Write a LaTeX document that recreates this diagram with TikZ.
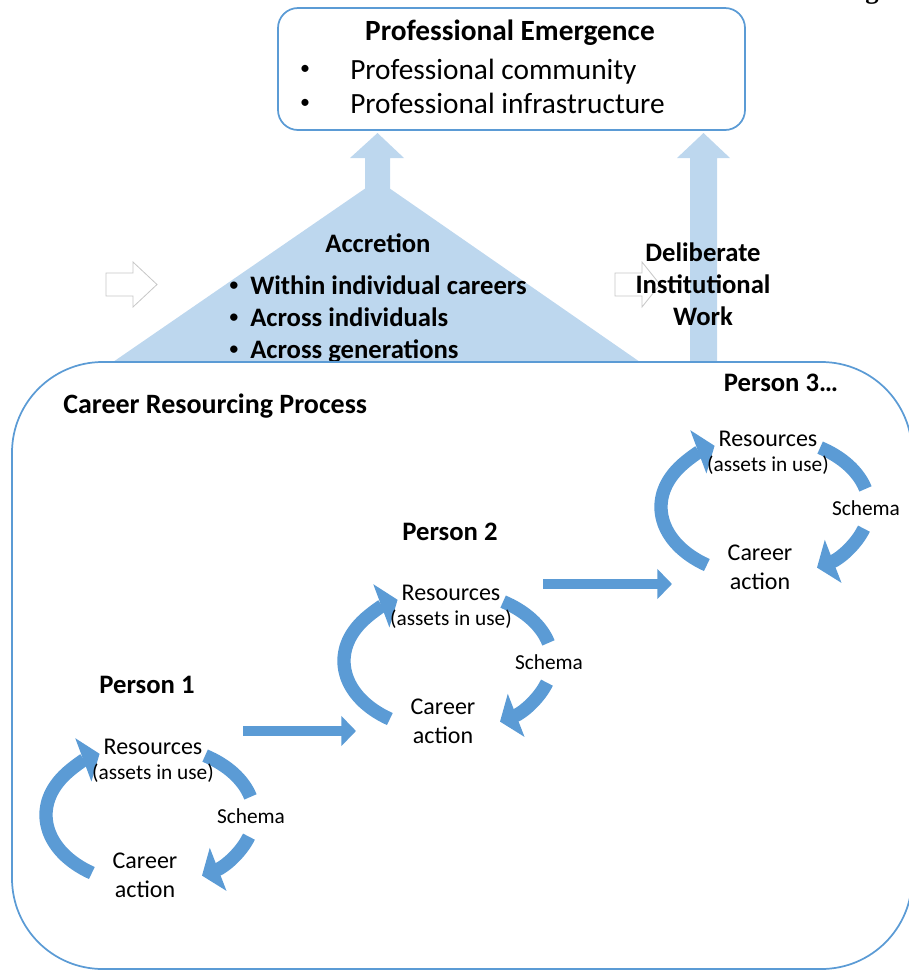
\documentclass[tikz,border=0pt]{standalone}
\usepackage{fontspec}
\setmainfont{Carlito}
\newfontfamily\serifcut{Liberation Serif}
\usetikzlibrary{arrows.meta,positioning}
\definecolor{boxblue}{HTML}{5B9BD5}
\definecolor{paleblue}{HTML}{BDD7EE}

\begin{document}
\begin{tikzpicture}[x=0.75pt,y=-0.75pt,
    cyc/.style={line width=10pt,draw=boxblue,-{Triangle[width=34pt,length=13pt]}},
    link/.style={line width=8pt,draw=boxblue,-{Triangle[width=22pt,length=11pt]}},
    block/.style={fill=paleblue},
    hollow/.style={fill=white,draw=black!22,line width=0.6pt},
    lbl/.style={font=\fontsize{18}{22}\selectfont,align=center,inner sep=0pt},
    small/.style={font=\fontsize{16}{19}\selectfont,inner sep=0pt},
    head/.style={font=\bfseries\fontsize{20}{24}\selectfont,align=center,inner sep=0pt},
    txt/.style={anchor=base west,inner sep=0pt},
    dot/.style={font=\fontsize{15}{17}\selectfont,inner sep=0pt}]
    \useasboundingbox (0,0) rectangle (909,972);

    % cut-off heading at the top edge
    \node[font=\serifcut\bfseries\fontsize{20}{24}\selectfont,anchor=base] (cut) at (872,-2) {g};

    % blocks behind the text
    \fill[block] (113,362) -- (377.5,180) -- (640,362) -- cycle;
    \fill[block] (365,200) -- (365,158) -- (350,158) -- (377.5,133) -- (404,158) -- (390,158) -- (390,200) -- cycle;
    \fill[block] (690,362) -- (690,158) -- (677,158) -- (703.5,133) -- (730,158) -- (717,158) -- (717,362) -- cycle;
    \draw[hollow] (106,273) -- (133,273) -- (133,262) -- (157,284.5) -- (133,307) -- (133,296) -- (106,296) -- cycle;
    \draw[hollow] (615,273) -- (642,273) -- (642,262) -- (660,284.5) -- (642,307) -- (642,296) -- (615,296) -- cycle;

    % professional emergence
    \draw[draw=boxblue,line width=1.3pt,rounded corners=15pt,fill=white] (278,8) rectangle (745,130);
    \node[font=\bfseries\fontsize{22}{26}\selectfont] (pe) at (510,33) {Professional Emergence};
    \node[txt,font=\fontsize{22}{26}\selectfont] (pe-a) at (350,79) {Professional community};
    \node[txt,font=\fontsize{22}{26}\selectfont] (pe-b) at (350,113) {Professional infrastructure};
    \node[dot] at (305,70) {•};
    \node[dot] at (305,104) {•};

    % accretion
    \node[head] (acc) at (378,243) {Accretion};
    \node[head,txt] (acc-a) at (250,294) {Within individual careers};
    \node[head,txt] (acc-b) at (250,326) {Across individuals};
    \node[head,txt] (acc-c) at (250,358) {Across generations};
    \foreach \y in {286,318,350}
        \node[dot,font=\bfseries\fontsize{13}{15}\selectfont] at (234,\y) {•};

    \node[head] (dw) at (703,284) {Deliberate\\Institutional\\Work};

    % career resourcing process
    \draw[draw=boxblue,line width=1.3pt,rounded corners=68pt] (12,362) rectangle (912,969);
    \node[txt,font=\bfseries\fontsize{21}{25}\selectfont] (crp) at (63,413) {Career Resourcing Process};

    \foreach \n/\cx/\cy in {1/150/815, 2/448/661, 3/765/507}{
        \coordinate (c\n) at (\cx,\cy);
        \draw[cyc] ([shift={(124:104 and 70)}]c\n) arc[start angle=124,end angle=241,x radius=104,y radius=70];
        \draw[cyc,-] ([shift={(-58:104 and 70)}]c\n) arc[start angle=-58,end angle=-15,x radius=104,y radius=70];
        \draw[cyc] ([shift={(18:104 and 70)}]c\n) arc[start angle=18,end angle=60,x radius=104,y radius=70];
        \node[lbl] (res\n) at ([shift={(3,-68)}]c\n) {Resources};
        \node[small] (use\n) at ([shift={(3,-42)}]c\n) {(assets in use)};
        \node[small] (sch\n) at ([shift={(101,1)}]c\n) {Schema};
        \node[lbl] (act\n) at ([shift={(-5,60)}]c\n) {Career\\action};
    }

    \node[head] (p1) at ([shift={(-3,-130)}]c1) {Person 1};
    \node[head] (p2) at ([shift={(2,-129)}]c2) {Person 2};
    \node[head] (p3) at ([shift={(16,-124)}]c3) {Person 3…};

    \coordinate (out1) at (243,731);
    \coordinate (in2) at (356,731);
    \coordinate (out2) at (543,584);
    \coordinate (in3) at (672,584);
    \draw[link] (out1) -- (in2);
    \draw[link] (out2) -- (in3);
\end{tikzpicture}
\end{document}
